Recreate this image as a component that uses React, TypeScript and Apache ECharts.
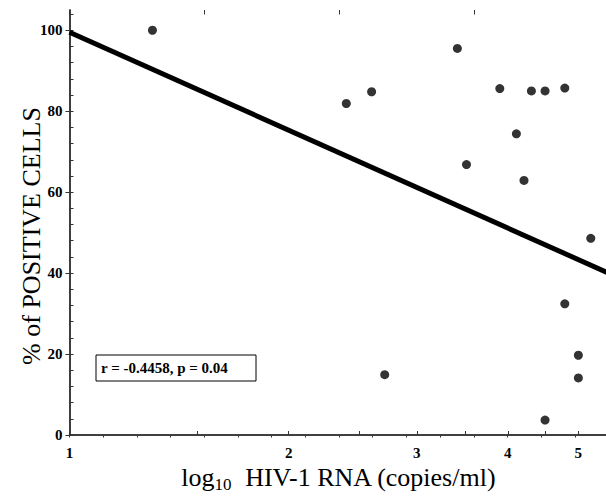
import React, { useEffect, useRef } from "react";
import * as echarts from "echarts";

// HIV-1 RNA (log10 copies/ml) vs % positive cells
const rnaValues = [1.3, 2.4, 2.6, 2.71, 3.41, 3.51, 3.9, 4.11, 4.21, 4.31, 4.5, 4.5, 4.79, 4.79, 5.0, 5.0, 5.2];
const positiveCells = [100, 81.9, 84.8, 14.9, 95.5, 66.8, 85.6, 74.4, 62.9, 85.0, 85.0, 3.7, 85.7, 32.4, 19.7, 14.1, 48.6];

// regression line end points
const lineX = [1, 5.5];
const lineY = [99.5, 40.0];

const xTickValues = [1, 1.5, 2, 2.5, 3, 3.5, 4, 4.5, 5];
const xLabelValues = [1, 2, 3, 4, 5];
const yLabelValues = [0, 20, 40, 60, 80, 100];
const yMinorTickValues = [0, 4, 8, 12, 16, 20, 24, 28, 32, 36, 40, 44, 48, 52, 56, 60, 64, 68, 72, 76, 80, 84, 88, 92, 96, 100, 104];
const topMinorTicks = [0, 1, 2, 3, 4, 5, 6, 7, 8, 9, 10, 11, 12, 13, 14, 15, 16];
const topMajorTicks = [0, 4, 8, 12, 16];

const X_MIN = 1;
const X_MAX = 5.5;
const Y_MIN = 0;
const Y_MAX = 105;

const statsText = "r = -0.4458, p = 0.04";
const yTitle = "% of POSITIVE CELLS";

const FONT = "'Liberation Serif', 'DejaVu Serif', serif";
const AXIS_COLOR = "#333";

export default function App() {
  const ref = useRef<HTMLDivElement>(null);

  useEffect(() => {
    if (!ref.current) return;
    const chart = echarts.init(ref.current, undefined, { renderer: "svg" });
    const lg = (v: number) => Math.log10(v);

    const scatterData = rnaValues.map((x, i) => [lg(x), positiveCells[i]]);
    const lineData = lineX.map((x, i) => [lg(x), lineY[i]]);

    const boldRich = {
      b: {
        fontFamily: FONT,
        fontWeight: "bold",
        fontSize: 15,
        color: "#000",
      },
    };

    chart.setOption({
      animation: false,
      backgroundColor: "#fff",
      grid: {
        left: 69.5,
        top: 10,
        width: 539,
        height: 425,
        containLabel: false,
        outerBoundsMode: "none",
      },
      xAxis: [
        {
          type: "value",
          position: "bottom",
          min: lg(X_MIN),
          max: lg(X_MAX),
          axisLine: { show: true, lineStyle: { color: AXIS_COLOR, width: 1.5 } },
          axisTick: {
            show: true,
            inside: true,
            length: 4,
            customValues: xTickValues.map(lg),
            lineStyle: { color: AXIS_COLOR, width: 1 },
          },
          axisLabel: {
            fontFamily: FONT,
            fontWeight: "bold",
            fontSize: 15,
            color: "#000",
            margin: 10,
            customValues: xLabelValues.map(lg),
            formatter: (v: number) => `{b|${Math.round(Math.pow(10, v))}}`,
            rich: boldRich,
          },
          splitLine: { show: false },
          name: "{m|log}{s|10}{m|  HIV-1 RNA (copies/ml)}{sp| }",
          nameLocation: "middle",
          nameGap: 27,
          nameTextStyle: {
            fontFamily: FONT,
            color: "#000",
            rich: {
              m: { fontFamily: FONT, fontSize: 26, color: "#000", lineHeight: 26, verticalAlign: "top" },
              s: { fontFamily: FONT, fontSize: 17, color: "#000", lineHeight: 17, verticalAlign: "bottom" },
              sp: { fontFamily: FONT, fontSize: 2, lineHeight: 28 },
            },
          },
        },
        {
          type: "value",
          position: "top",
          min: 0,
          max: 16,
          axisLine: { show: true, lineStyle: { color: AXIS_COLOR, width: 1.5 } },
          axisTick: {
            show: true,
            inside: true,
            length: 2.5,
            customValues: topMinorTicks,
            lineStyle: { color: AXIS_COLOR, width: 1 },
          },
          axisLabel: { show: false },
          splitLine: { show: false },
        },
        {
          type: "value",
          position: "top",
          min: 0,
          max: 16,
          axisLine: { show: false },
          axisTick: {
            show: true,
            inside: true,
            length: 4.5,
            customValues: topMajorTicks,
            lineStyle: { color: AXIS_COLOR, width: 1 },
          },
          axisLabel: { show: false },
          splitLine: { show: false },
        },
      ],
      yAxis: [
        {
          type: "value",
          position: "left",
          min: Y_MIN,
          max: Y_MAX,
          axisLine: { show: true, lineStyle: { color: AXIS_COLOR, width: 1.5 } },
          axisTick: {
            show: true,
            inside: true,
            length: 4,
            customValues: yMinorTickValues,
            lineStyle: { color: AXIS_COLOR, width: 1 },
          },
          axisLabel: {
            fontFamily: FONT,
            fontWeight: "bold",
            fontSize: 15,
            color: "#000",
            margin: 7,
            customValues: yLabelValues,
            formatter: (v: number) => `{b|${v}}`,
            rich: boldRich,
          },
          splitLine: { show: false },
        },
        {
          type: "value",
          position: "right",
          min: Y_MIN,
          max: Y_MAX,
          axisLine: { show: true, lineStyle: { color: AXIS_COLOR, width: 1.5 } },
          axisTick: {
            show: true,
            inside: true,
            length: 4,
            customValues: yLabelValues,
            lineStyle: { color: AXIS_COLOR, width: 1 },
          },
          axisLabel: { show: false },
          splitLine: { show: false },
        },
      ],
      series: [
        {
          type: "line",
          xAxisIndex: 0,
          yAxisIndex: 0,
          data: lineData,
          showSymbol: false,
          symbol: "none",
          lineStyle: { color: "#000", width: 5 },
          silent: true,
          z: 2,
        },
        {
          type: "scatter",
          xAxisIndex: 0,
          yAxisIndex: 0,
          data: scatterData,
          symbol: "circle",
          symbolSize: 9,
          itemStyle: { color: "#000" },
          z: 3,
        },
      ],
      graphic: [
        {
          type: "text",
          x: 31,
          y: 236,
          rotation: Math.PI / 2,
          style: {
            text: yTitle,
            font: `normal 26px ${FONT}`,
            fill: "#000",
            align: "center",
            verticalAlign: "middle",
          },
        },
        {
          type: "rect",
          shape: { x: 96, y: 355, width: 160, height: 26 },
          style: { fill: "#fff", stroke: "#000", lineWidth: 1 },
          z: 10,
        },
        {
          type: "text",
          x: 101,
          y: 368,
          style: {
            text: statsText,
            font: `bold 15px ${FONT}`,
            fill: "#000",
            align: "left",
            verticalAlign: "middle",
          },
          z: 11,
        },
      ],
    });

    return () => chart.dispose();
  }, []);

  return (
    <div
      ref={ref}
      style={{ position: "absolute", left: 0, top: 0, width: 606, height: 502 }}
    />
  );
}
